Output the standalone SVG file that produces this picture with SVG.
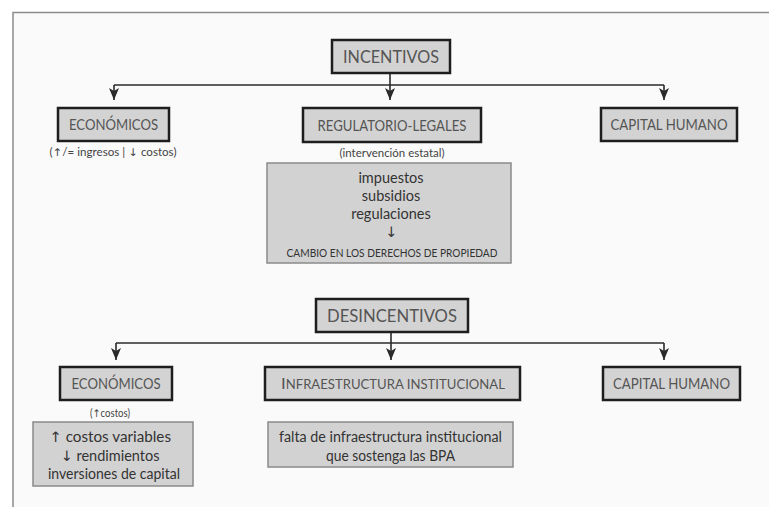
<svg xmlns="http://www.w3.org/2000/svg" width="769" height="507" viewBox="0 0 769 507">
<defs>
<marker id="ah" viewBox="0 0 12 10" refX="12" refY="5" markerWidth="12" markerHeight="10" markerUnits="userSpaceOnUse" orient="auto">
<path d="M0,0 L12,5 L0,10 L3,5 Z" fill="#2a2a2a"/>
</marker>
<style>
.hdr{fill:#d3d3d3;stroke:#1e1e1e;stroke-width:2.5}
.cnt{fill:#d2d2d2;stroke:#8a8a8a;stroke-width:1.5}
.t{font-family:Lato,"Open Sans","Liberation Sans",sans-serif;fill:#555;text-anchor:middle}
.ar{font-family:"DejaVu Sans","Liberation Sans",sans-serif}
.h{font-size:16px}
.big{font-size:17px}
.s{font-size:10.5px;fill:#444}
.c{font-size:14.5px;fill:#333}
.cap{font-size:10.5px;fill:#333}
.con{fill:none;stroke:#2a2a2a;stroke-width:1.6}
</style>
</defs>
<rect x="0" y="0" width="769" height="507" fill="#ffffff"/>
<rect x="13" y="12.5" width="760" height="500" fill="#fafafa"/>
<path d="M13,507 V12.5 H769" fill="none" stroke="#8c8c8c" stroke-width="1.5"/>

<g id="connectors">
<path class="con" d="M390,73 V85"/>
<path class="con" d="M114,85 H664"/>
<path class="con" d="M114,85 V100" marker-end="url(#ah)"/>
<path class="con" d="M390,85 V100" marker-end="url(#ah)"/>
<path class="con" d="M664,85 V100" marker-end="url(#ah)"/>
<path class="con" d="M391,332 V343"/>
<path class="con" d="M116,343 H664"/>
<path class="con" d="M116,343 V360" marker-end="url(#ah)"/>
<path class="con" d="M391,343 V360" marker-end="url(#ah)"/>
<path class="con" d="M664,343 V360" marker-end="url(#ah)"/>
</g>

<g id="incentivos">
<rect class="hdr" x="332" y="40" width="118" height="33"/>
<text class="t big" x="391" y="62.5" textLength="96" lengthAdjust="spacingAndGlyphs">INCENTIVOS</text>
</g>

<g id="inc-economicos">
<rect class="hdr" x="58" y="108" width="111" height="33"/>
<text class="t h" x="113.5" y="130" textLength="89" lengthAdjust="spacingAndGlyphs">ECONÓMICOS</text>
<text class="t s" x="113" y="156" textLength="127" lengthAdjust="spacingAndGlyphs">(<tspan class="ar">↑</tspan>/= ingresos | <tspan class="ar">↓</tspan> costos)</text>
</g>

<g id="inc-regulatorio">
<rect class="hdr" x="303" y="108" width="178" height="34"/>
<text class="t h" x="392" y="130.5" textLength="149" lengthAdjust="spacingAndGlyphs">REGULATORIO-LEGALES</text>
<text class="t s" x="392" y="157" textLength="105" lengthAdjust="spacingAndGlyphs">(intervención estatal)</text>
</g>

<g id="inc-regulatorio-detalle">
<rect class="cnt" x="267" y="163" width="244" height="100"/>
<text class="t c" x="391" y="183">impuestos</text>
<text class="t c" x="391" y="201">subsidios</text>
<text class="t c" x="391" y="219">regulaciones</text>
<text class="t c ar" x="391" y="237">↓</text>
<text class="t cap" x="392" y="257" textLength="211" lengthAdjust="spacingAndGlyphs">CAMBIO EN LOS DERECHOS DE PROPIEDAD</text>
</g>

<g id="inc-capital">
<rect class="hdr" x="601" y="108" width="136" height="33"/>
<text class="t h" x="669" y="130" textLength="117" lengthAdjust="spacingAndGlyphs">CAPITAL HUMANO</text>
</g>

<g id="desincentivos">
<rect class="hdr" x="316" y="299" width="152" height="33"/>
<text class="t big" x="392" y="321.5" textLength="130" lengthAdjust="spacingAndGlyphs">DESINCENTIVOS</text>
</g>

<g id="des-economicos">
<rect class="hdr" x="60" y="367" width="112" height="33"/>
<text class="t h" x="116" y="389" textLength="89" lengthAdjust="spacingAndGlyphs">ECONÓMICOS</text>
<text class="t s" x="110" y="417" textLength="40" lengthAdjust="spacingAndGlyphs">(<tspan class="ar">↑</tspan>costos)</text>
</g>

<g id="des-economicos-detalle">
<rect class="cnt" x="33" y="422" width="160" height="64"/>
<text class="t c" x="110" y="442" textLength="122" lengthAdjust="spacingAndGlyphs"><tspan class="ar">↑</tspan> costos variables</text>
<text class="t c" x="110" y="461"><tspan class="ar">↓</tspan> rendimientos</text>
<text class="t c" x="114" y="479" textLength="132" lengthAdjust="spacingAndGlyphs">inversiones de capital</text>
</g>

<g id="des-infraestructura">
<rect class="hdr" x="265" y="367" width="255" height="33"/>
<text class="t" x="393" y="389" textLength="224" lengthAdjust="spacingAndGlyphs"><tspan font-size="16">I</tspan><tspan font-size="12.5">NFRAESTRUCTURA  INSTITUCIONAL</tspan></text>
</g>

<g id="des-infraestructura-detalle">
<rect class="cnt" x="268" y="422" width="245" height="45"/>
<text class="t c" x="390.5" y="442" textLength="223" lengthAdjust="spacingAndGlyphs">falta  de infraestructura institucional</text>
<text class="t c" x="390.5" y="461" textLength="129" lengthAdjust="spacingAndGlyphs">que sostenga las BPA</text>
</g>

<g id="des-capital">
<rect class="hdr" x="603" y="367" width="137" height="33"/>
<text class="t h" x="671.5" y="389" textLength="117" lengthAdjust="spacingAndGlyphs">CAPITAL HUMANO</text>
</g>
</svg>
